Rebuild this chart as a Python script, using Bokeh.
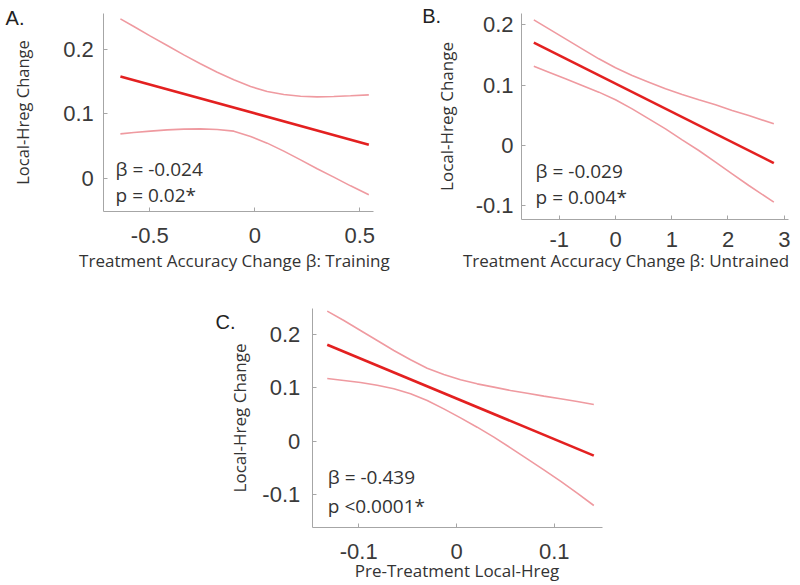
from bokeh.plotting import figure
from bokeh.models import Label, FixedTicker, Range1d, Spacer
from bokeh.layouts import column, row
from bokeh.embed import file_html
from bokeh.resources import INLINE

# ---------------- Panel A ----------------
A_fit_x = [-0.640, 0.543]
A_fit_y = [0.158, 0.052]
A_ci_x = [-0.640, -0.576, -0.497, -0.417, -0.338, -0.259, -0.179, -0.100,
          -0.020, 0.059, 0.138, 0.218, 0.297, 0.376, 0.456, 0.543]
A_upper = [0.2472, 0.2353, 0.2204, 0.2059, 0.1914, 0.1775, 0.1645, 0.1527,
           0.1423, 0.1346, 0.1299, 0.1273, 0.1263, 0.1268, 0.1279, 0.1294]
A_lower = [0.0689, 0.0710, 0.0731, 0.0751, 0.0762, 0.0767, 0.0757, 0.0731,
           0.0648, 0.0545, 0.0421, 0.0286, 0.0147, 0.0018, -0.0117, -0.0256]
A_xticks = [-0.5, 0, 0.5]
A_xtick_labels = ["-0.5", "0", "0.5"]
A_yticks = [0, 0.1, 0.2]
A_ytick_labels = ["0", "0.1", "0.2"]
A_xlabel = "Treatment Accuracy Change \u03b2: Training"
A_stats = ["\u03b2 = -0.024", "p = 0.02*"]

# ---------------- Panel B ----------------
B_fit_x = [-1.452, 2.815]
B_fit_y = [0.170, -0.029]
B_ci_x = [-1.452, -1.185, -0.889, -0.593, -0.296, 0.0, 0.296, 0.593,
          0.889, 1.185, 1.481, 1.778, 2.074, 2.370, 2.815]
B_upper = [0.2077, 0.1928, 0.1763, 0.1598, 0.1433, 0.1284, 0.1157, 0.1047,
           0.0937, 0.0843, 0.0755, 0.0672, 0.0579, 0.0496, 0.0358]
B_lower = [0.1311, 0.1212, 0.1102, 0.0992, 0.0882, 0.0755, 0.0606, 0.0441,
           0.0275, 0.0094, -0.0083, -0.0275, -0.0468, -0.0661, -0.0937]
B_xticks = [-1, 0, 1, 2, 3]
B_xtick_labels = ["-1", "0", "1", "2", "3"]
B_yticks = [-0.1, 0, 0.1, 0.2]
B_ytick_labels = ["-0.1", "0", "0.1", "0.2"]
B_xlabel = "Treatment Accuracy Change \u03b2: Untrained"
B_stats = ["\u03b2 = -0.029", "p = 0.004*"]

# ---------------- Panel C ----------------
C_fit_x = [-0.1322, 0.1404]
C_fit_y = [0.181, -0.027]
C_ci_x = [-0.1322, -0.1152, -0.0982, -0.0811, -0.0641, -0.0470, -0.0300, -0.0130,
          0.0041, 0.0211, 0.0382, 0.0552, 0.0723, 0.0893, 0.1063, 0.1234, 0.1404]
C_upper = [0.2440, 0.2265, 0.2077, 0.1889, 0.1702, 0.1527, 0.1370, 0.1251,
           0.1151, 0.1076, 0.1014, 0.0951, 0.0901, 0.0845, 0.0795, 0.0745, 0.0689]
C_lower = [0.1176, 0.1139, 0.1101, 0.1051, 0.0983, 0.0889, 0.0764, 0.0607,
           0.0438, 0.0263, 0.0076, -0.0124, -0.0331, -0.0537, -0.0750, -0.0975, -0.1206]
C_xticks = [-0.1, 0, 0.1]
C_xtick_labels = ["-0.1", "0", "0.1"]
C_yticks = [-0.1, 0, 0.1, 0.2]
C_ytick_labels = ["-0.1", "0", "0.1", "0.2"]
C_xlabel = "Pre-Treatment Local-Hreg"
C_stats = ["\u03b2 = -0.439", "p <0.0001*"]

YLABEL = "Local-Hreg Change"

FIT_COLOR = "#e32020"
CI_COLOR = "#ef9aa0"
AXIS_COLOR = "#a6a6a6"
TICK_TEXT = "#3a3a3a"
LABEL_TEXT = "#333333"


def make_panel(cfg):
    # the frame covers the whole figure; the axes sit at fixed data positions
    p = figure(width=cfg["w"], height=cfg["h"], output_backend="svg",
               toolbar_location=None,
               x_range=Range1d(*cfg["view_x"]), y_range=Range1d(*cfg["view_y"]),
               min_border_left=0, min_border_right=0,
               min_border_top=0, min_border_bottom=0)
    p.outline_line_color = None
    p.grid.visible = False
    p.background_fill_color = "white"
    p.border_fill_color = "white"

    p.line(cfg["ci_x"], cfg["upper"], line_color=CI_COLOR, line_width=1.6)
    p.line(cfg["ci_x"], cfg["lower"], line_color=CI_COLOR, line_width=1.6)
    p.line(cfg["fit_x"], cfg["fit_y"], line_color=FIT_COLOR, line_width=2.6)

    p.xaxis.fixed_location = cfg["yr"][0]
    p.xaxis.bounds = cfg["xr"]
    p.yaxis.fixed_location = cfg["xr"][0]
    p.yaxis.bounds = cfg["yr"]

    for ax, ticks, labels, so in ((p.xaxis, cfg["xticks"], cfg["xtl"], cfg["xso"]),
                                  (p.yaxis, cfg["yticks"], cfg["ytl"], cfg["yso"])):
        ax.ticker = FixedTicker(ticks=ticks, minor_ticks=[])
        ax.major_label_overrides = {t: l for t, l in zip(ticks, labels)}
        ax.axis_line_color = AXIS_COLOR
        ax.axis_line_width = 1
        ax.major_tick_line_color = AXIS_COLOR
        ax.major_tick_in = 4
        ax.major_tick_out = 0
        ax.minor_tick_line_color = None
        ax.major_label_text_font = "Liberation Sans"
        ax.major_label_text_font_size = "22px"
        ax.major_label_text_color = TICK_TEXT
        ax.major_label_standoff = so

    p.yaxis.axis_label = YLABEL
    p.yaxis.axis_label_text_font = "Open Sans"
    p.yaxis.axis_label_text_font_size = cfg["ylfs"]
    p.yaxis.axis_label_text_font_style = "normal"
    p.yaxis.axis_label_text_color = LABEL_TEXT
    p.yaxis.axis_label_standoff = cfg["ylso"]

    # x-axis title
    p.add_layout(Label(x=cfg["xl_pos"][0], y=cfg["xl_pos"][1], text=cfg["xlabel"],
                       text_font="Open Sans", text_font_size="17px",
                       text_color=LABEL_TEXT, text_align="center",
                       text_baseline="alphabetic"))
    # regression statistics
    for (sx, sy), txt in zip(cfg["stat_pos"], cfg["stats"]):
        p.add_layout(Label(x=sx, y=sy, text=txt, text_font="Open Sans",
                           text_font_size="19px", text_color=LABEL_TEXT,
                           text_align="left", text_baseline="alphabetic"))
    # panel letter
    p.add_layout(Label(x=cfg["letter_pos"][0], y=cfg["letter_pos"][1],
                       text=cfg["letter"], text_font="Liberation Sans",
                       text_font_size="20px", text_color="#222222",
                       text_align="left", text_baseline="alphabetic"))
    return p


pA = make_panel(dict(
    w=400, h=290,
    view_x=(-1.2110, 0.6938), view_y=(-0.1740, 0.2757),
    xr=(-0.719, 0.565), yr=(-0.052, 0.255),
    ci_x=A_ci_x, upper=A_upper, lower=A_lower, fit_x=A_fit_x, fit_y=A_fit_y,
    xticks=A_xticks, xtl=A_xtick_labels, yticks=A_yticks, ytl=A_ytick_labels,
    xso=16, yso=10, ylfs="16.5px", ylso=26,
    xlabel=A_xlabel, xl_pos=(-0.097, -0.1276),
    stats=A_stats, stat_pos=[(-0.663, 0.0147), (-0.663, -0.0266)],
    letter="A.", letter_pos=(-1.187, 0.2482)))

pB = make_panel(dict(
    w=400, h=290,
    view_x=(-3.8222, 3.2889), view_y=(-0.2397, 0.2397),
    xr=(-1.67, 3.08), yr=(-0.123, 0.218),
    ci_x=B_ci_x, upper=B_upper, lower=B_lower, fit_x=B_fit_x, fit_y=B_fit_y,
    xticks=B_xticks, xtl=B_xtick_labels, yticks=B_yticks, ytl=B_ytick_labels,
    xso=12, yso=8, ylfs="17px", ylso=15,
    xlabel=B_xlabel, xl_pos=(0.187, -0.1906),
    stats=B_stats, stat_pos=[(-1.42, -0.0418), (-1.42, -0.0858)],
    letter="B.", letter_pos=(-3.436, 0.2137)))

pC = make_panel(dict(
    w=412, h=295,
    view_x=(-0.2618, 0.1595), view_y=(-0.2707, 0.2827),
    xr=(-0.1475, 0.149), yr=(-0.161, 0.248),
    ci_x=C_ci_x, upper=C_upper, lower=C_lower, fit_x=C_fit_x, fit_y=C_fit_y,
    xticks=C_xticks, xtl=C_xtick_labels, yticks=C_yticks, ytl=C_ytick_labels,
    xso=17, yso=12, ylfs="17px", ylso=9,
    xlabel=C_xlabel, xl_pos=(0.0005, -0.2426),
    stats=C_stats, stat_pos=[(-0.1316, -0.068), (-0.1316, -0.121)],
    letter="C.", letter_pos=(-0.2464, 0.2227)))

layout = column(row(pA, pB), row(Spacer(width=200, height=295), pC))

open("out.html", "w").write(file_html(layout, INLINE))
